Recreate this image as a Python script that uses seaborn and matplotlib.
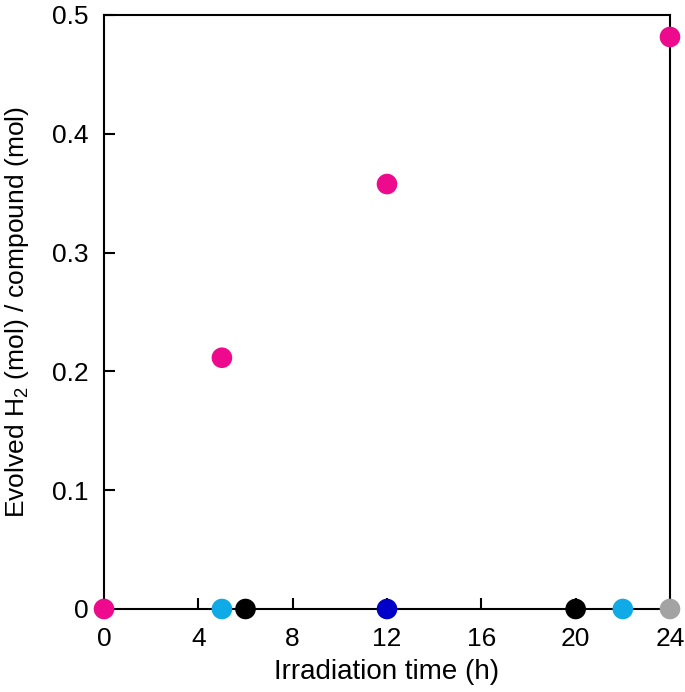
import matplotlib
matplotlib.use("Agg")
import matplotlib.pyplot as plt
import seaborn as sns
import pandas as pd

sns.set_style("ticks")
plt.rcParams['font.family'] = ['Liberation Sans', 'DejaVu Sans']
plt.rcParams['mathtext.default'] = 'regular'
plt.rcParams['text.color'] = 'black'
plt.rcParams['axes.labelcolor'] = 'black'
plt.rcParams['xtick.color'] = 'black'
plt.rcParams['ytick.color'] = 'black'

times = [0, 5, 12, 24, 5, 6, 12, 20, 22, 24]
values = [0.0, 0.2115, 0.3577, 0.4815, 0.0, 0.0, 0.0, 0.0, 0.0, 0.0]
groups = ["pink", "pink", "pink", "pink", "cyan", "black", "blue", "black", "cyan", "grey"]
palette = {"pink": "#EE0A8C", "cyan": "#10AAE6", "black": "#000000",
           "blue": "#0000C8", "grey": "#A3A3A3"}

x_ticks = [0, 4, 8, 12, 16, 20, 24]
y_ticks = [0, 0.1, 0.2, 0.3, 0.4, 0.5]
y_ticklabels = ["0", "0.1", "0.2", "0.3", "0.4", "0.5"]

df = pd.DataFrame({"time": times, "value": values, "group": groups})

fig = plt.figure(figsize=(6.85, 6.92), dpi=100)
ax = fig.add_axes([104 / 685, 83 / 692, 566 / 685, 594 / 692])
sns.scatterplot(data=df, x="time", y="value", hue="group", palette=palette,
                s=220, edgecolor="none", legend=False, ax=ax, clip_on=False, zorder=5)

ax.set_xlim(0, 24)
ax.set_ylim(0, 0.5)
ax.set_xticks(x_ticks)
ax.set_xticklabels([str(t) for t in x_ticks])
ax.set_yticks(y_ticks)
ax.set_yticklabels(y_ticklabels)
ax.tick_params(direction="in", length=8, width=1.5, labelsize=19, pad=11,
               top=False, right=False)
ax.tick_params(axis="x", pad=13)
for sp in ax.spines.values():
    sp.set_linewidth(1.5)
    sp.set_color("black")
ax.set_xlabel("Irradiation time (h)", fontsize=20, labelpad=6)
ax.set_ylabel("Evolved H$_2$ (mol) / compound (mol)", fontsize=19, labelpad=15)

fig.savefig("out.png", dpi=100)
